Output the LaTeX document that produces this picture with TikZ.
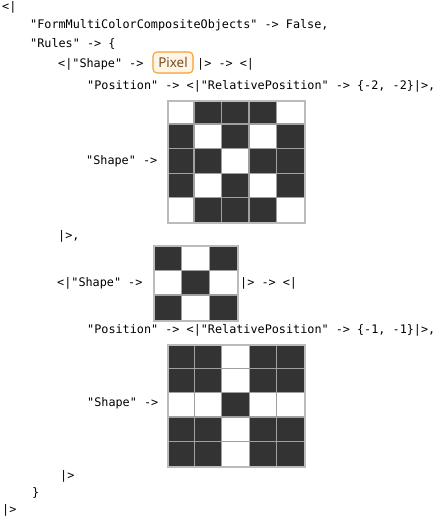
\documentclass[tikz,border=0pt]{standalone}
\usepackage{fontspec}
\setmonofont{DejaVu Sans Mono}
\newfontfamily\pixfont{Open Sans}
\definecolor{cell}{HTML}{333333}
\definecolor{gline}{HTML}{A0A0A0}
\definecolor{gframe}{HTML}{BBBBBB}
\definecolor{pixborder}{HTML}{F5A030}
\definecolor{pixfill}{HTML}{FFF5E6}
\definecolor{pixtext}{HTML}{6E4014}
\newcommand{\mkgrid}[7]{%
  \fill[white] (#2,#3) rectangle ++({#4*#5},{#4*#6});
  \foreach \c/\r in {#7} \fill[cell] ({#2+\c*#5},{#3+\r*#6}) rectangle ++(#5,#6);
  \pgfmathtruncatemacro\nm{#4-1}
  \foreach \i in {1,...,\nm} {
    \draw[gridline] ({#2+\i*#5},#3) -- ++(0,{#4*#6});
    \draw[gridline] (#2,{#3+\i*#6}) -- ++({#4*#5},0);
  }
  \node[gridframe, minimum width={#4*#5}, minimum height={#4*#6}, anchor=north west] (#1) at (#2,#3) {};
}
\begin{document}
\begin{tikzpicture}[x=1pt,y=-1pt,
  txt/.style={anchor=west,inner sep=0pt,font=\ttfamily\fontsize{11.8}{14}\selectfont,text height=8.5pt,text depth=2.5pt},
  gridline/.style={draw=gline,line width=1.3pt},
  gridframe/.style={draw=gframe,line width=2pt,inner sep=0pt},
  pixbox/.style={draw=pixborder,fill=pixfill,line width=1.1pt,rounded corners=4pt,inner sep=0pt,minimum width=40pt,minimum height=21pt,text=pixtext,font=\pixfont\fontsize{13.5}{15}\selectfont}]
\useasboundingbox (0,0) rectangle (444,520);
\node[txt] (t0) at (2,7) {<|};
\node[txt] (t1) at (30,25) {"FormMultiColorCompositeObjects" -> False,};
\node[txt] (t2) at (30,44) {"Rules" -> \{};
\node[txt] (t3) at (58,64) {<|"Shape" ->};
\node[pixbox] (pix) at (173,62.5) {Pixel};
\node[txt] (t4) at (197,64) {|> -> <|};
\node[txt] (t5) at (87,86) {"Position" -> <|"RelativePosition" -> \{-2, -2\}|>,};
\mkgrid{g1}{166.5}{99.5}{5}{27.5}{24.56}{1/0,2/0,3/0,0/1,2/1,4/1,0/2,1/2,3/2,4/2,0/3,2/3,4/3,1/4,2/4,3/4}
\node[txt] (t6) at (86,161) {"Shape" ->};
\node[txt] (t7) at (58,236) {|>,};
\mkgrid{g2}{153.3}{245.3}{3}{28}{24.9}{0/0,2/0,1/1,0/2,2/2}
\node[txt] (t8) at (57,283) {<|"Shape" ->};
\node[txt] (t9) at (240,283) {|> -> <|};
\node[txt] (t10) at (87,330) {"Position" -> <|"RelativePosition" -> \{-1, -1\}|>,};
\mkgrid{g3}{166.7}{344}{5}{27.52}{24.34}{0/0,1/0,3/0,4/0,0/1,1/1,3/1,4/1,2/2,0/3,1/3,3/3,4/3,0/4,1/4,3/4,4/4}
\node[txt] (t11) at (87,403) {"Shape" ->};
\node[txt] (t12) at (60,476) {|>};
\node[txt] (t13) at (32,493) {\}};
\node[txt] (t14) at (2,510) {|>};
\end{tikzpicture}
\end{document}
